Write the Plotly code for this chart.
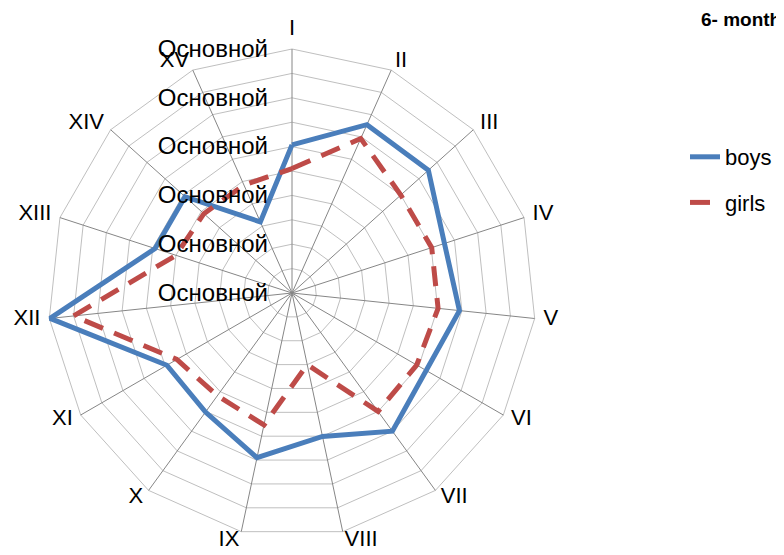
import math
import plotly.graph_objects as go

categories = ["I", "II", "III", "IV", "V", "VI", "VII", "VIII", "IX", "X",
              "XI", "XII", "XIII", "XIV", "XV"]
boys = [6.07, 7.55, 7.52, 6.57, 6.9, 6.35, 7.0, 6.01, 6.9, 6.03,
        5.92, 9.97, 5.9, 5.9, 3.19]
girls = [5.1, 6.93, 6.0, 6.02, 6.02, 5.9, 6.0, 3.0, 5.53, 5.2,
         5.45, 9.0, 5.0, 4.86, 4.84]
radial_ticks = list(range(0, 11))
radial_labels = ["Основной" if v % 2 == 0 else "" for v in radial_ticks]
title_text = "6- month"

# page body has an 8px margin: work in reference pixels minus 8
OFF = 8
W, H = 784 - OFF, 555 - OFF
FONT = "Liberation Sans, Arial, sans-serif"
R_MAX = 10                      # outer ring value
R_PX = 244                      # outer ring radius in pixels
LABEL_R = R_MAX * 253 / R_PX    # anchor of the category labels
AXIS_MAX = R_MAX * 1.05         # axis range leaves room for the labels

fig = go.Figure()

# spokes (one per category, from centre to the outer ring)
spoke_r, spoke_t = [], []
for c in categories:
    spoke_r += [0, R_MAX, None]
    spoke_t += [c, c, None]
fig.add_trace(go.Scatterpolar(
    r=spoke_r, theta=spoke_t, mode="lines",
    line=dict(color="#868686", width=1),
    showlegend=False, hoverinfo="skip", connectgaps=False))

fig.add_trace(go.Scatterpolar(
    r=boys + boys[:1], theta=categories + categories[:1], mode="lines",
    name="boys", legendgroup="b",
    line=dict(color="#4a7ebb", width=5), cliponaxis=False))
fig.add_trace(go.Scatterpolar(
    r=girls + girls[:1], theta=categories + categories[:1], mode="lines",
    name="girls", legendgroup="g",
    line=dict(color="#be4b48", width=5, dash="20px,12px"), cliponaxis=False))

# category labels: left-aligned on the right half, right-aligned on the left half
n = len(categories)
label_pos = []
for i in range(n):
    s = math.sin(2 * math.pi * i / n)
    label_pos.append("top center" if abs(s) < 0.1 else
                     ("middle right" if s > 0 else "middle left"))
fig.add_trace(go.Scatterpolar(
    r=[LABEL_R] * n, theta=categories, text=categories,
    mode="text", textposition=label_pos,
    textfont=dict(size=22, family=FONT, color="black"),
    showlegend=False, hoverinfo="skip", cliponaxis=False))

cx, cy = 292 - OFF, 293 - OFF
RD = R_PX * AXIS_MAX / R_MAX
fig.update_layout(
    width=W, height=H,
    margin=dict(l=0, r=0, t=0, b=0),
    paper_bgcolor="white", plot_bgcolor="white",
    font=dict(family=FONT, color="black"),
    polar=dict(
        domain=dict(x=[(cx - RD) / W, (cx + RD) / W],
                    y=[max(0, (H - cy - RD) / H), min(1, (H - cy + RD) / H)]),
        bgcolor="white",
        gridshape="linear",
        angularaxis=dict(
            type="category", categoryarray=categories,
            rotation=90, direction="clockwise",
            showline=False, showgrid=False,
            ticks="", showticklabels=False,
        ),
        radialaxis=dict(
            range=[0, AXIS_MAX], tickvals=radial_ticks,
            ticktext=[t + "\u00a0" * 3 if t else t for t in radial_labels],
            angle=90, side="counterclockwise",
            showline=False, ticks="",
            gridcolor="#bfbfbf", gridwidth=1,
            tickfont=dict(size=24, family=FONT, color="black"),
            tickangle=90,
        ),
    ),
    showlegend=True,
    legend=dict(
        x=677 / W, y=(H - 128) / H, xanchor="left", yanchor="top",
        font=dict(size=22, family=FONT, color="black"),
        traceorder="grouped", tracegroupgap=14,
        bgcolor="rgba(0,0,0,0)",
    ),
    annotations=[dict(
        text="<b>" + title_text + "</b>", xref="paper", yref="paper",
        x=(783 - OFF) / W, y=(H - (20 - OFF)) / H, xanchor="right", yanchor="middle",
        showarrow=False, font=dict(size=19, family=FONT, color="black"),
    )],
)

fig.write_html("out.html")
